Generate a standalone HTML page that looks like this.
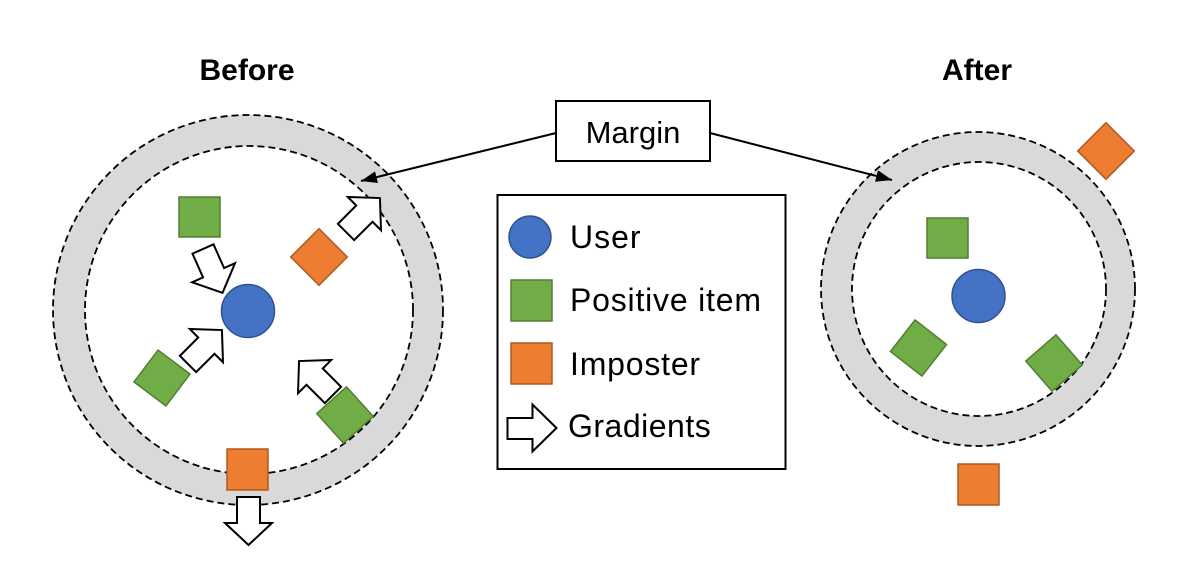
<!DOCTYPE html>
<html><head><meta charset="utf-8"><style>
html,body{margin:0;padding:0;background:#fff;}
svg{display:block;}
text{font-family:"Liberation Sans",sans-serif;fill:#000;}
</style></head><body>
<svg width="1196" height="562" viewBox="0 0 1196 562" xmlns="http://www.w3.org/2000/svg">
<defs>
<polygon id="arr" points="0,-11.5 26,-11.5 26,-23.5 48,0 26,23.5 26,11.5 0,11.5" fill="#fff" stroke="#000" stroke-width="2" stroke-linejoin="miter"/>
<marker id="ah" viewBox="0 0 16 12" refX="16" refY="6" markerWidth="16" markerHeight="12" markerUnits="userSpaceOnUse" orient="auto">
<path d="M0,0 L16,6 L0,12 z" fill="#000"/>
</marker>
</defs>

<text x="247" y="80" font-size="30" font-weight="bold" text-anchor="middle">Before</text>
<text x="977" y="80" font-size="30" font-weight="bold" text-anchor="middle">After</text>

<circle cx="248" cy="310" r="195" fill="#d9d9d9" stroke="#000" stroke-width="1.8" stroke-dasharray="7 4"/>
<circle cx="249" cy="310" r="164" fill="#fff" stroke="#000" stroke-width="1.8" stroke-dasharray="7 4"/>

<circle cx="978" cy="289" r="157" fill="#d9d9d9" stroke="#000" stroke-width="1.8" stroke-dasharray="7 4"/>
<circle cx="979" cy="289" r="127" fill="#fff" stroke="#000" stroke-width="1.8" stroke-dasharray="7 4"/>

<line x1="556" y1="133" x2="361" y2="181" stroke="#000" stroke-width="2" marker-end="url(#ah)"/>
<line x1="710" y1="133" x2="892" y2="180" stroke="#000" stroke-width="2" marker-end="url(#ah)"/>
<rect x="556" y="101" width="154" height="60" fill="#fff" stroke="#000" stroke-width="2"/>
<text x="633" y="143" font-size="31" text-anchor="middle">Margin</text>

<circle cx="248" cy="311" r="26.5" fill="#4472C4" stroke="#2F528F" stroke-width="1.5"/>
<rect x="179" y="197" width="41" height="40" fill="#70AD47" stroke="#507E32" stroke-width="1.5"/>
<rect x="-20" y="-20" width="40" height="40" fill="#ED7D31" stroke="#AE5A21" stroke-width="1.5" transform="translate(319,257) rotate(45)"/>
<rect x="-20" y="-20" width="40" height="40" fill="#70AD47" stroke="#507E32" stroke-width="1.5" transform="translate(162,378) rotate(37)"/>
<rect x="-20" y="-20" width="40" height="40" fill="#70AD47" stroke="#507E32" stroke-width="1.5" transform="translate(345,415) rotate(48)"/>
<rect x="227" y="449" width="41" height="41" fill="#ED7D31" stroke="#AE5A21" stroke-width="1.5"/>
<use href="#arr" transform="translate(203,249) rotate(66)"/>
<use href="#arr" transform="translate(346,232) rotate(-45)"/>
<use href="#arr" transform="translate(188,364) rotate(-45)"/>
<use href="#arr" transform="translate(333,395) rotate(-135)"/>
<use href="#arr" transform="translate(248.5,497) rotate(90)"/>

<circle cx="978.5" cy="296" r="26.5" fill="#4472C4" stroke="#2F528F" stroke-width="1.5"/>
<rect x="927" y="218" width="41" height="40" fill="#70AD47" stroke="#507E32" stroke-width="1.5"/>
<rect x="-20" y="-20" width="40" height="40" fill="#70AD47" stroke="#507E32" stroke-width="1.5" transform="translate(918.5,348) rotate(38)"/>
<rect x="-20" y="-20" width="40" height="40" fill="#70AD47" stroke="#507E32" stroke-width="1.5" transform="translate(1054,363) rotate(49)"/>
<rect x="-20" y="-20" width="40" height="40" fill="#ED7D31" stroke="#AE5A21" stroke-width="1.5" transform="translate(1106,151) rotate(45)"/>
<rect x="958" y="464" width="41" height="41" fill="#ED7D31" stroke="#AE5A21" stroke-width="1.5"/>

<rect x="497.5" y="195" width="288" height="274" fill="#fff" stroke="#000" stroke-width="2"/>
<circle cx="530" cy="237" r="21" fill="#4472C4" stroke="#2F528F" stroke-width="1.5"/>
<rect x="511" y="280" width="41" height="41" fill="#70AD47" stroke="#507E32" stroke-width="1.5"/>
<rect x="511" y="343" width="41" height="41" fill="#ED7D31" stroke="#AE5A21" stroke-width="1.5"/>
<polygon points="507.5,418 532.5,418 532.5,404.5 556.5,428 532.5,451.5 532.5,439 507.5,439" fill="#fff" stroke="#000" stroke-width="2"/>
<text x="570" y="248" font-size="32" letter-spacing="1">User</text>
<text x="570" y="311" font-size="32" letter-spacing="0.8">Positive item</text>
<text x="570" y="375" font-size="32" letter-spacing="0.8">Imposter</text>
<text x="568" y="437" font-size="32" letter-spacing="0.5">Gradients</text>
</svg>
</body></html>
